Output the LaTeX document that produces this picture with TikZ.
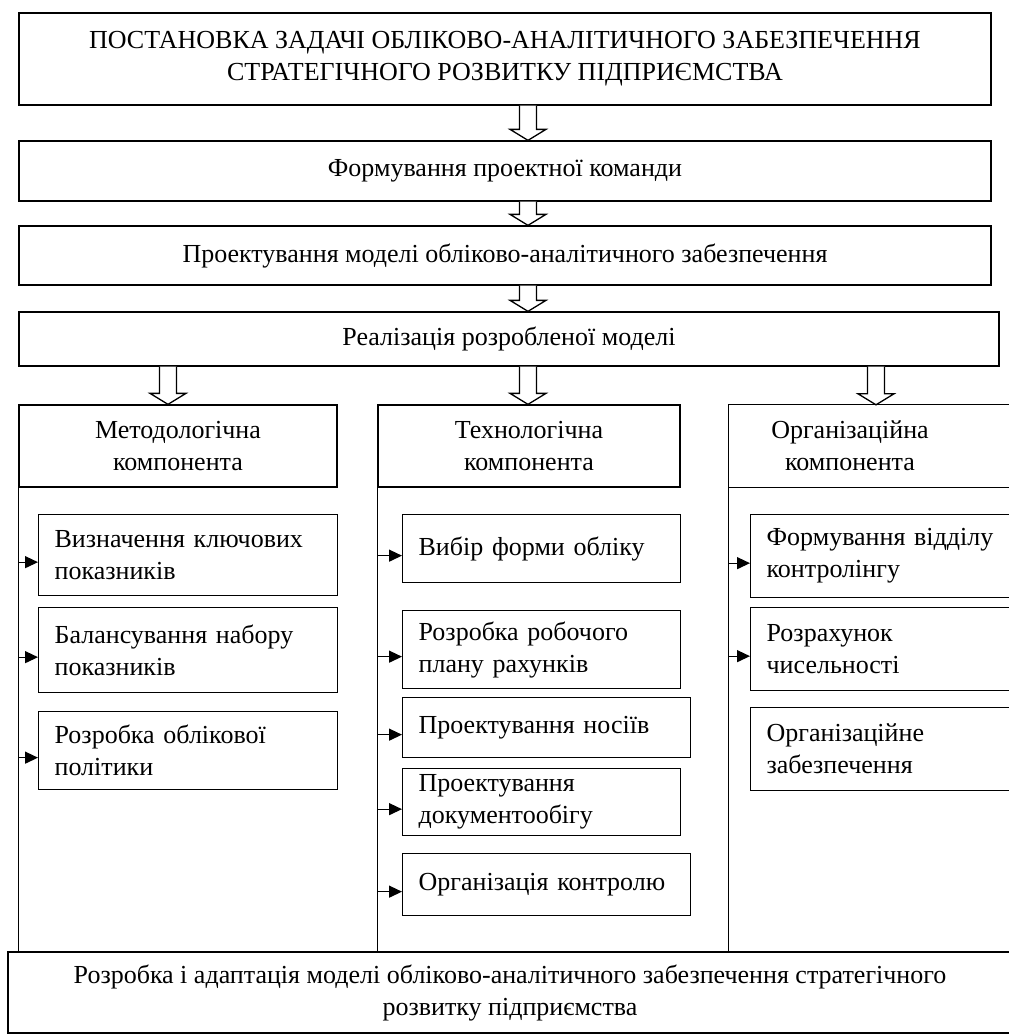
\documentclass[tikz,border=0pt]{standalone}
\usepackage{fontspec}
\setmainfont{Liberation Serif}
\usetikzlibrary{arrows.meta,calc}

\tikzset{
  frame/.style={draw, line width=1.3pt},
  bigbox/.style={frame, align=center, inner sep=0pt},
  itembox/.style={frame, anchor=north west, align=left, inner xsep=16pt, inner ysep=0pt},
  link/.style={line width=1.3pt, -{Triangle[length=13pt,width=12pt]}},
  hollow/.style={line width=1.3pt, fill=white},
}

% #1 x of the arrow, #2 upper node, #3 lower node
\newcommand{\hollowarrow}[3]{%
  \draw[hollow] ($(#2.south -| #1)+(-8.5,0)$) -- ($(#3.north -| #1)+(-8.5,-11)$)
    -- ($(#3.north -| #1)+(-18,-11)$) -- (#3.north -| #1)
    -- ($(#3.north -| #1)+(18,-11)$) -- ($(#3.north -| #1)+(8.5,-11)$)
    -- ($(#2.south -| #1)+(8.5,0)$);
}

\begin{document}
\begin{tikzpicture}[x=1pt, y=-1pt, font=\fontsize{26}{32}\selectfont]

  \useasboundingbox (0,0) rectangle (1009,1034);

  \node[bigbox, minimum width=972pt, minimum height=92pt] (task) at (505,59)
    {ПОСТАНОВКА ЗАДАЧІ ОБЛІКОВО-АНАЛІТИЧНОГО ЗАБЕЗПЕЧЕННЯ\\СТРАТЕГІЧНОГО РОЗВИТКУ ПІДПРИЄМСТВА};
  \node[bigbox, minimum width=972pt, minimum height=60pt] (team) at (505,171) {Формування проектної команди};
  \node[bigbox, minimum width=972pt, minimum height=59pt] (model) at (505,255.5)
    {Проектування моделі обліково-аналітичного забезпечення};
  \node[bigbox, minimum width=980pt, minimum height=54pt] (impl) at (509,339) {Реалізація розробленої моделі};

  \coordinate (mid) at (528,0);
  \coordinate (left) at (168,0);
  \coordinate (right) at (876,0);

  \hollowarrow{mid}{task}{team}
  \hollowarrow{mid}{team}{model}
  \hollowarrow{mid}{model}{impl}

  % three components
  \node[bigbox, minimum width=318pt, minimum height=82pt] (methhead) at (178,446) {Методологічна\\компонента};
  \node[bigbox, minimum width=302pt, minimum height=82pt] (techhead) at (529,446) {Технологічна\\компонента};
  \node[align=center, inner sep=0pt, minimum width=242pt, minimum height=82pt] (orghead) at (850,446)
    {Організаційна\\компонента};
  \draw[frame] ($(orghead.north west)+(320,0)$) -- (orghead.north west) -- (orghead.south west) -- ++(320,0);

  \hollowarrow{left}{impl}{methhead}
  \hollowarrow{mid}{impl}{techhead}
  \hollowarrow{right}{impl}{orghead}

  \node[bigbox, minimum width=1004pt, minimum height=81pt] (adapt) at (510,992.5)
    {Розробка і адаптація моделі обліково-аналітичного забезпечення стратегічного\\розвитку підприємства};

  \draw[frame] (methhead.south west) -- (methhead.south west |- adapt.north);
  \draw[frame] (techhead.south west) -- (techhead.south west |- adapt.north);
  \draw[frame] (orghead.south west) -- (orghead.south west |- adapt.north);

  % methodological
  \node[itembox, text width=267pt, minimum height=81pt] (keys) at (38,514) {Визначення ключових\\показників};
  \node[itembox, text width=267pt, minimum height=85pt] (balance) at (38,607) {Балансування набору\\показників};
  \node[itembox, text width=267pt, minimum height=78pt] (policy) at (38,711) {Розробка облікової\\політики};

  % technological
  \node[itembox, text width=246pt, minimum height=68pt] (form) at (402,514) {Вибір форми обліку};
  \node[itembox, text width=246pt, minimum height=78pt] (plan) at (402,610) {Розробка робочого\\плану рахунків};
  \node[itembox, text width=256pt, minimum height=60pt] (media) at (402,697) {Проектування носіїв};
  \node[itembox, text width=246pt, minimum height=67pt] (flow) at (402,768) {Проектування\\документообігу};
  \node[itembox, text width=256pt, minimum height=62pt] (control) at (402,853) {Організація контролю};

  % organizational
  \node[itembox, text width=258pt, minimum height=83pt] (dept) at (750,514) {Формування відділу\\контролінгу};
  \node[itembox, text width=258pt, minimum height=83pt] (staff) at (750,607) {Розрахунок\\чисельності};
  \node[itembox, text width=258pt, minimum height=83pt] (orgsup) at (750,707) {Організаційне\\забезпечення};

  \foreach \item in {keys, balance, policy}
    \draw[link] ($(\item.west -| methhead.west)+(0,7)$) -- ($(\item.west)+(0,7)$);
  \foreach \item in {form, plan, media, flow, control}
    \draw[link] ($(\item.west -| techhead.west)+(0,7)$) -- ($(\item.west)+(0,7)$);
  \foreach \item in {dept, staff}
    \draw[link] ($(\item.west -| orghead.west)+(0,7)$) -- ($(\item.west)+(0,7)$);

\end{tikzpicture}
\end{document}
